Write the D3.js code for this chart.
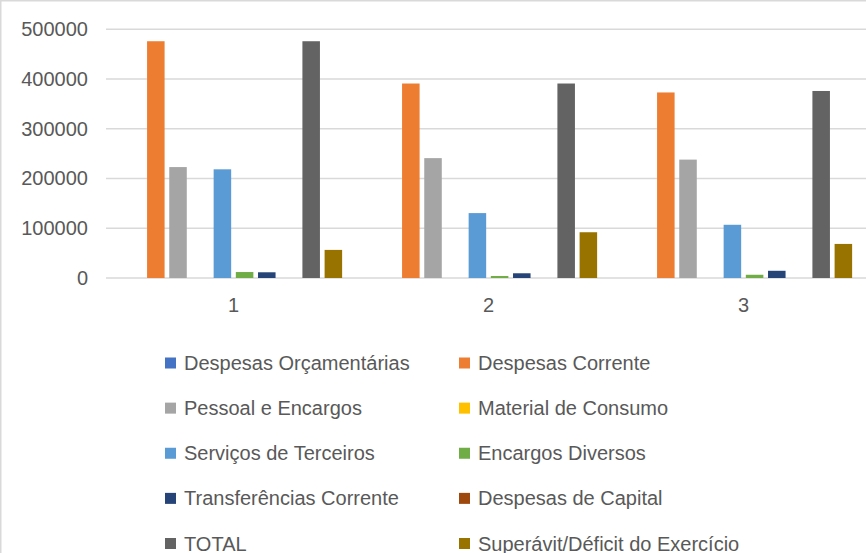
<!DOCTYPE html>
<html>
<head>
<meta charset="utf-8">
<script src="https://cdn.jsdelivr.net/npm/d3@7"></script>
<style>
  html, body { margin: 0; padding: 0; background: #fff; }
  svg { display: block; }
  text { font-family: "Liberation Sans", Arial, sans-serif; fill: #595959; }
</style>
</head>
<body>
<div id="chart"></div>
<script>
// Categories (periods) and expense series
const categories = ["1", "2", "3"];
const seriesNames = [
  "Despesas Orçamentárias",
  "Despesas Corrente",
  "Pessoal e Encargos",
  "Material de Consumo",
  "Serviços de Terceiros",
  "Encargos Diversos",
  "Transferências Corrente",
  "Despesas de Capital",
  "TOTAL",
  "Superávit/Déficit do Exercício"
];
const seriesColors = [
  "#4472C4", "#ED7D31", "#A5A5A5", "#FFC000", "#5B9BD5",
  "#70AD47", "#264478", "#9E480E", "#636363", "#997300"
];
// One array per series, one value per category
const despesasOrcamentarias = [0, 0, 0];
const despesasCorrente      = [476000, 391000, 373000];
const pessoalEncargos       = [223000, 241000, 238000];
const materialConsumo       = [0, 0, 0];
const servicosTerceiros     = [218500, 130500, 107000];
const encargosDiversos      = [12000, 4000, 6500];
const transferencias        = [11500, 9500, 14500];
const despesasCapital       = [0, 0, 0];
const total                 = [476000, 391000, 376000];
const superavit             = [56500, 92000, 68500];
const yTicks = [0, 100000, 200000, 300000, 400000, 500000];

const seriesValues = [
  despesasOrcamentarias, despesasCorrente, pessoalEncargos, materialConsumo,
  servicosTerceiros, encargosDiversos, transferencias, despesasCapital,
  total, superavit
];

const W = 866, H = 553;
const svg = d3.select("#chart").append("svg")
  .attr("width", W).attr("height", H);

// chart frame (partly outside the visible area)
svg.append("rect")
  .attr("x", 0.75).attr("y", 0.75)
  .attr("width", W + 20).attr("height", H + 20)
  .attr("fill", "#fff").attr("stroke", "#d9d9d9").attr("stroke-width", 1.5);

const plot = { left: 106, right: 871, top: 29.3, bottom: 278 };

const y = d3.scaleLinear().domain([0, 500000]).range([plot.bottom, plot.top]);
const x0 = d3.scaleBand().domain(categories)
  .range([plot.left, plot.right]).paddingInner(0.148).paddingOuter(0.074);
const x1 = d3.scaleBand().domain(d3.range(seriesNames.length))
  .range([0, x0.bandwidth()]).paddingInner(0.21).paddingOuter(0);

// gridlines
svg.append("g").selectAll("line").data(yTicks).join("line")
  .attr("x1", plot.left).attr("x2", plot.right)
  .attr("y1", d => y(d)).attr("y2", d => y(d))
  .attr("stroke", "#d9d9d9").attr("stroke-width", 1.6);

// y axis labels
const yAxis = d3.axisLeft(y).tickValues(yTicks).tickSize(0).tickPadding(0)
  .tickFormat(d3.format("d"));
const gy = svg.append("g").attr("transform", `translate(88,0)`).call(yAxis);
gy.select(".domain").remove();
gy.selectAll("text").style("font-size", "20px").attr("fill", "#595959")
  .attr("font-family", null);

// x axis labels
const xAxis = d3.axisBottom(x0).tickSize(0).tickPadding(0);
const gx = svg.append("g").attr("transform", `translate(0,${plot.bottom + 20})`).call(xAxis);
gx.select(".domain").remove();
gx.selectAll("text").style("font-size", "20px").attr("fill", "#595959")
  .attr("font-family", null);

// bars
const groups = svg.append("g").selectAll("g").data(categories).join("g")
  .attr("transform", d => `translate(${x0(d)},0)`);
groups.selectAll("rect")
  .data((c, ci) => seriesValues.map((vals, si) => ({ si, v: vals[ci] })))
  .join("rect")
  .attr("x", d => x1(d.si))
  .attr("width", x1.bandwidth())
  .attr("y", d => y(d.v))
  .attr("height", d => y(0) - y(d.v))
  .attr("fill", d => seriesColors[d.si]);

// legend: two columns
const legendCols = [165, 459];
const legendRows = d3.scaleLinear().domain([0, 4]).range([363, 543.5]);
const legend = svg.append("g").selectAll("g").data(seriesNames).join("g")
  .attr("transform", (d, i) => `translate(${legendCols[i % 2]},${legendRows(Math.floor(i / 2))})`);
legend.append("rect")
  .attr("x", 0).attr("y", -5.5).attr("width", 11).attr("height", 11)
  .attr("fill", (d, i) => seriesColors[i]);
legend.append("text")
  .attr("x", 19).attr("dy", "0.35em")
  .style("font-size", "20px")
  .text(d => d);
</script>
</body>
</html>
